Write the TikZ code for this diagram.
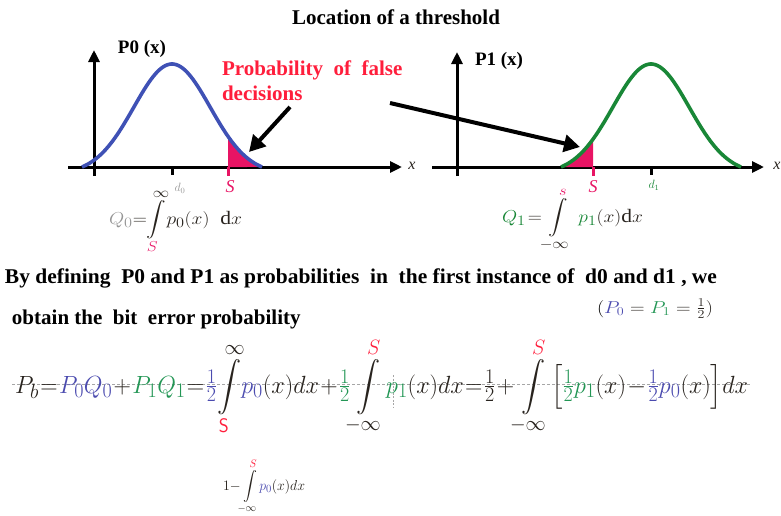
\documentclass[tikz,border=0pt]{standalone}
\usepackage{amsmath}
\usepackage{graphicx}
\usepackage{fontspec}
\setmainfont{Liberation Serif}
\usetikzlibrary{arrows.meta}
\definecolor{cblue}{RGB}{63,81,181}
\definecolor{cgreen}{RGB}{25,135,55}
\definecolor{cpink}{RGB}{232,20,100}
\definecolor{cred}{RGB}{255,30,60}
\definecolor{eqblue}{RGB}{75,75,175}
\definecolor{eqgreen}{RGB}{35,150,85}
\definecolor{qgray}{RGB}{150,150,150}
\definecolor{ink}{RGB}{40,35,30}
\begin{document}
\begin{tikzpicture}[x=1pt,y=-1pt,
  declare function={bell(\t)=103*(exp(-(\t)*(\t)/2916)-0.062)/0.938;},
  axisline/.style={line width=3pt,-{Triangle[width=11pt,length=12pt]}},
  curveline/.style={line width=3.6pt},
  tickmark/.style={line width=3pt},
  pointer/.style={line width=4pt,-{Triangle[width=17pt,length=16pt]}},
  lbl/.style={inner sep=0pt,outer sep=0pt},
  boldtxt/.style={lbl,font=\fontsize{21}{24}\selectfont\bfseries},
  eqtxt/.style={lbl,font=\fontsize{28}{32}\selectfont}]
\useasboundingbox (0,0) rectangle (781,515);

% title
\node[boldtxt] (title) at (396,17) {Location of a threshold};

% left graph
\draw[axisline] (94,176) -- (94,50);
\draw[axisline] (68,167) -- (402,167);
\fill[cpink] (228,167) -- plot[domain=56:90,samples=30] ({172+\x},{167-bell(\x)}) -- cycle;
\draw[curveline,cblue] plot[domain=-90:90,samples=90,smooth] ({172+\x},{167-bell(\x)});
\draw[tickmark] (172,167) -- (172,175);
\draw[tickmark,cpink] (228,167) -- (228,176);
\node[boldtxt,font=\fontsize{19}{22}\selectfont\bfseries] (p0lab) at (142,49) {P0 (x)};
\node[lbl,font=\fontsize{16}{18}\selectfont\itshape,text=ink] (xl) at (412,166) {x};
\node[lbl,font=\fontsize{18}{20}\selectfont\itshape,text=cpink] (sl) at (230,187) {S};
\node[lbl,font=\fontsize{12}{13}\selectfont,text=qgray] (d0l) at (180,188) {$d_0$};

% red text
\node[boldtxt,anchor=base west,text=cred] (prob1) at (222,75) {Probability\ \ of\ \ false};
\node[boldtxt,anchor=base west,text=cred] (prob2) at (222,100) {decisions};

% right graph
\draw[axisline] (457,176) -- (457,52);
\draw[axisline] (432,167) -- (764,167);
\fill[cpink] (561,167) -- plot[domain=-90:-58,samples=30] ({651+\x},{167-bell(\x)}) -- (593,167) -- cycle;
\draw[curveline,cgreen] plot[domain=-90:90,samples=90,smooth] ({651+\x},{167-bell(\x)});
\draw[tickmark] (651,167) -- (651,175);
\draw[tickmark,cpink] (593,167) -- (593,176);
\node[boldtxt,font=\fontsize{19}{22}\selectfont\bfseries] (p1lab) at (499,61) {P1 (x)};
\node[lbl,font=\fontsize{16}{18}\selectfont\itshape,text=ink] (xr) at (777,166) {x};
\node[lbl,font=\fontsize{18}{20}\selectfont\itshape,text=cpink] (sr) at (593,187) {S};
\node[lbl,font=\fontsize{12}{13}\selectfont,text=cgreen] (d1l) at (654,185) {$d_1$};

% pointers
\coordinate (tipL) at (249,152);
\coordinate (tipR) at (580,147);
\coordinate (fromL) at (290,107);
\coordinate (fromR) at (390,103);
\draw[pointer] (fromL) -- (tipL);
\draw[pointer] (fromR) -- (tipR);

% Q0 and Q1
\node[lbl,anchor=base west,font=\fontsize{19}{22}\selectfont] (q0) at (109,224)
 {\resizebox{133pt}{\height}{$\thickmuskip=0mu\color{qgray}Q_0\color{ink}={\displaystyle\int\limits_{\rule{0pt}{6pt}{\color{cpink}S}}^{\infty}}\color{ink}p_0(x)\ \ \mathrm{d}x$}};
\node[lbl,anchor=base west,font=\fontsize{19}{22}\selectfont] (q1) at (502,222)
 {\resizebox{141pt}{\height}{$\thickmuskip=2mu\color{cgreen}Q_1\color{ink}={\displaystyle\int\limits_{\rule{0pt}{6pt}-\infty}^{{\color{cpink}s}}}\ \color{cgreen}p_1\color{ink}(x)\mathrm{d}x$}};

% paragraph
\node[boldtxt,anchor=base west] (line1) at (5,283)
 {\resizebox{712pt}{\height}{By defining\ \ P0 and P1 as probabilities\ \ in\ \ the first instance of\ \ d0 and d1\ , we}};
\node[lbl,anchor=base west,font=\fontsize{18}{20}\selectfont] (half) at (597,313)
 {\resizebox{116pt}{\height}{$(\color{eqblue}P_0\color{ink}=\color{eqgreen}P_1\color{ink}={\tfrac12})$}};
\node[boldtxt,anchor=base west] (line2) at (12,324) {obtain the\ \ bit\ \ error probability};

% main equation
\draw[gray!70,line width=0.7pt,dash pattern=on 3pt off 2pt] (12,384) -- (750,384);
\draw[gray!70,line width=0.7pt,dash pattern=on 2pt off 1.5pt] (393,375) -- (393,407);
\node[eqtxt,anchor=base west,text=ink] (maineq) at (15,393)
 {\resizebox{733pt}{\height}{$\thickmuskip=1mu\medmuskip=1mu
 P_b=\color{eqblue}P_0Q_0\color{ink}+\color{eqgreen}P_1Q_1\color{ink}=\color{eqblue}{\tfrac12}
 \color{ink}{\displaystyle\int\limits_{\rule{0pt}{14pt}{\color{cred}\mathsf{S}}}^{\infty}}\color{eqblue}p_0\color{ink}(x)dx
 +\color{eqgreen}{\tfrac12}\color{ink}{\displaystyle\int\limits_{\rule{0pt}{8pt}-\infty}^{{\color{cred}S}}}\color{eqgreen}p_1\color{ink}(x)dx
 ={\tfrac12}+{\displaystyle\int\limits_{\rule{0pt}{8pt}-\infty}^{{\color{cred}S}}}\Bigl[\color{eqgreen}{\tfrac12}p_1\color{ink}(x)-\color{eqblue}{\tfrac12}p_0\color{ink}(x)\Bigr]dx$}};

% lower expression
\node[lbl,anchor=base west,font=\fontsize{15}{17}\selectfont,text=ink] (lower) at (223,490)
 {\resizebox{82pt}{\height}{$1{-}{\displaystyle\int\limits_{\rule{0pt}{6pt}-\infty}^{{\color{cred}S}}}\color{eqblue}p_0\color{ink}(x)dx$}};
\end{tikzpicture}
\end{document}
